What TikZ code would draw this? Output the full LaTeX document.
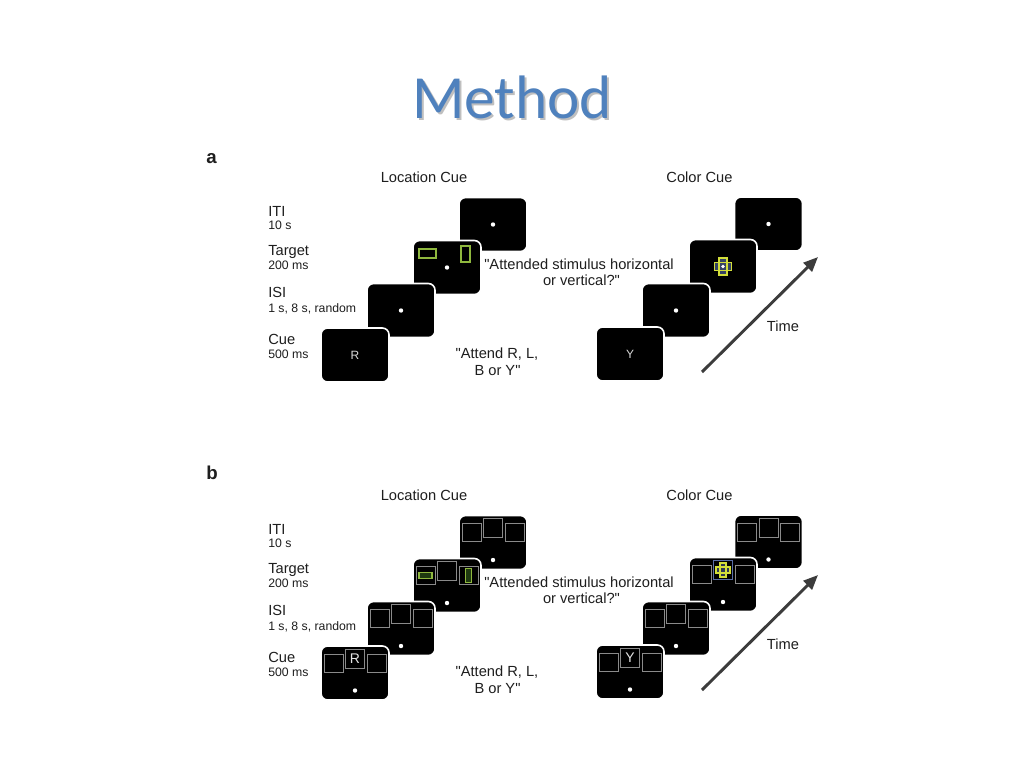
\documentclass[tikz,border=0pt]{standalone}
\usepackage{fontspec}
\setmainfont{Liberation Sans}
\newfontfamily\hv{Liberation Sans}
\newfontfamily\titlefont{Carlito}
\usetikzlibrary{arrows.meta}
\definecolor{titleblue}{HTML}{4F81BD}
\definecolor{stimgreen}{HTML}{8FB83E}
\definecolor{bargreen}{HTML}{1F3A10}
\definecolor{crossyel}{HTML}{D2DE3A}
\definecolor{crossblue}{HTML}{5A6FA8}
\definecolor{sqgray}{HTML}{8A8A8A}
\definecolor{txt}{HTML}{1E1E1E}
\definecolor{arrgray}{HTML}{3C3C3C}
\newcommand\threesq{%
  \draw[sq] (-31,-19) rectangle (-12,-1);
  \draw[sq] (-9.5,-24) rectangle (9.5,-5);
  \draw[sq] (12,-19) rectangle (31,-1);}
\newcommand\sidesq{%
  \draw[sq] (-31,-19) rectangle (-12,-1);
  \draw[sq] (12,-19) rectangle (31,-1);}
\newcommand\botdot{\fill[white] (0,17.5) circle[radius=2.2];}
\newcommand\cendot{\fill[white] (0,0) circle[radius=2.2];}
\begin{document}
\begin{tikzpicture}[x=0.75pt,y=-0.75pt,
  screen/.style={fill=black, draw=white, line width=1.2pt, rounded corners=5pt,
    minimum width=51pt, minimum height=40.5pt, inner sep=0pt},
  sq/.style={draw=sqgray, line width=0.7pt},
  stim/.style={draw=stimgreen, line width=0.8pt},
  lbl/.style={anchor=base west, inner sep=0pt, text=txt, font=\hv\fontsize{11}{13}\selectfont},
  sub/.style={anchor=base west, inner sep=0pt, text=txt, font=\hv\fontsize{9.2}{11}\selectfont},
  head/.style={anchor=base, inner sep=0pt, text=txt, font=\hv\fontsize{11}{13}\selectfont},
  panel/.style={anchor=base west, inner sep=0pt, text=txt, font=\hv\bfseries\fontsize{14}{16}\selectfont},
  letter/.style={inner sep=0pt, text=white!85!black, font=\hv\fontsize{9}{10}\selectfont},
  bigletter/.style={inner sep=0pt, text=white!90!black, font=\hv\fontsize{10.5}{12}\selectfont},
  timearrow/.style={draw=arrgray, line width=2.2pt, -{Triangle[length=11pt,width=9pt]}}
]
\useasboundingbox[fill=white] (0,0) rectangle (1024,768);

% title
\node[anchor=base, inner sep=0pt, text=black!25, font=\titlefont\fontsize{46}{50}\selectfont] (titleshadow) at (514,120) {Method};
\node[anchor=base, inner sep=0pt, text=titleblue, font=\titlefont\fontsize{46}{50}\selectfont] (title) at (512,118) {Method};

% ================= panel a =================
\node[panel] (pa) at (206,163) {a};
\node[head] (aLhead) at (424,182.5) {Location Cue};
\node[head] (aChead) at (699.5,182.5) {Color Cue};

\node[lbl] (aITI) at (268,216) {ITI};
\node[sub] (aITIt) at (268,229.5) {10 s};
\node[lbl] (aTgt) at (268,255) {Target};
\node[sub] (aTgtt) at (268,269.5) {200 ms};
\node[lbl] (aISI) at (268,297.5) {ISI};
\node[sub] (aISIt) at (268,312.5) {1 s, 8 s, random};
\node[lbl] (aCue) at (268,344) {Cue};
\node[sub] (aCuet) at (268,358.5) {500 ms};

% location screens
\node[screen] (aLiti) at (493,224.5) {};
\begin{scope}[shift={(aLiti)}]\cendot\end{scope}
\node[screen] (aLtgt) at (447,267.5) {};
\begin{scope}[shift={(aLtgt)}]
  \draw[stim] (-28,-18.5) rectangle (-11,-9.5);
  \draw[stim] (14,-21.5) rectangle (23,-5.5);
  \cendot
\end{scope}
\node[screen] (aLisi) at (401,310.5) {};
\begin{scope}[shift={(aLisi)}]\cendot\end{scope}
\node[screen] (aLcue) at (355,355) {};
\node[letter] (aLR) at (aLcue) {R};

% color screens
\node[screen] (aCiti) at (768.5,224) {};
\begin{scope}[shift={(aCiti)}]\cendot\end{scope}
\node[screen] (aCtgt) at (723,266.5) {};
\begin{scope}[shift={(aCtgt)}]
  \fill[crossblue!60!black] (-8.5,-4) rectangle (8.5,4);
  \fill[crossblue!60!black] (-4,-8.5) rectangle (4,8.5);
  \draw[draw=crossyel, line width=0.8pt] (-8.5,-4) rectangle (8.5,4);
  \draw[draw=crossyel, line width=0.8pt] (-4,-8.5) rectangle (4,8.5);
  \fill[white] (0,0) circle[radius=1.8];
\end{scope}
\node[screen] (aCisi) at (676,310.5) {};
\begin{scope}[shift={(aCisi)}]\cendot\end{scope}
\node[screen] (aCcue) at (630,354) {};
\node[letter] (aCY) at (aCcue) {Y};

\node[head] (aQ1) at (579,269.5) {"Attended stimulus horizontal};
\node[head] (aQ2) at (581.5,285.5) {or vertical?"};
\node[head] (aA1) at (497,358) {"Attend R, L,};
\node[head] (aA2) at (497.5,375) {B or Y"};

\coordinate (aArrS) at (702,372);
\coordinate (aArrE) at (818,257);
\draw[timearrow] (aArrS) -- (aArrE);
\node[head] (aTime) at (783,331.5) {Time};

% ================= panel b =================
\node[panel] (pb) at (206,479) {b};
\node[head] (bLhead) at (424,500.5) {Location Cue};
\node[head] (bChead) at (699.5,500.5) {Color Cue};

\node[lbl] (bITI) at (268,534) {ITI};
\node[sub] (bITIt) at (268,547.5) {10 s};
\node[lbl] (bTgt) at (268,573) {Target};
\node[sub] (bTgtt) at (268,587.5) {200 ms};
\node[lbl] (bISI) at (268,615.5) {ISI};
\node[sub] (bISIt) at (268,630.5) {1 s, 8 s, random};
\node[lbl] (bCue) at (268,662) {Cue};
\node[sub] (bCuet) at (268,676.5) {500 ms};

% location screens
\node[screen] (bLiti) at (493,542.5) {};
\begin{scope}[shift={(bLiti)}]\threesq\botdot\end{scope}
\node[screen] (bLtgt) at (447,585.5) {};
\begin{scope}[shift={(bLtgt)}]
  \threesq
  \draw[stim, fill=bargreen] (-28,-13) rectangle (-15,-7);
  \draw[stim, fill=bargreen] (18.5,-17) rectangle (24.5,-3);
  \botdot
\end{scope}
\node[screen] (bLisi) at (401,628.5) {};
\begin{scope}[shift={(bLisi)}]\threesq\botdot\end{scope}
\node[screen] (bLcue) at (355,673) {};
\begin{scope}[shift={(bLcue)}]\threesq\botdot\end{scope}
\node[bigletter] (bLR) at ([yshift=10.9pt]bLcue.center) {R};

% color screens
\node[screen] (bCiti) at (768.5,542) {};
\begin{scope}[shift={(bCiti)}]\threesq\botdot\end{scope}
\node[screen] (bCtgt) at (723,584.5) {};
\begin{scope}[shift={(bCtgt)}]
  \sidesq
  \draw[draw=crossblue, line width=0.8pt] (-9.5,-24) rectangle (9.5,-5);
  \fill[crossblue!50!black] (-7,-17.5) rectangle (7,-11.5);
  \fill[crossblue!50!black] (-3,-21.5) rectangle (3,-7.5);
  \draw[draw=crossyel, line width=0.8pt] (-7,-17.5) rectangle (7,-11.5);
  \draw[draw=crossyel, line width=0.8pt] (-3,-21.5) rectangle (3,-7.5);
  \botdot
\end{scope}
\node[screen] (bCisi) at (676,628.5) {};
\begin{scope}[shift={(bCisi)}]\threesq\botdot\end{scope}
\node[screen] (bCcue) at (630,672) {};
\begin{scope}[shift={(bCcue)}]\threesq\botdot\end{scope}
\node[bigletter] (bCY) at ([yshift=10.9pt]bCcue.center) {Y};

\node[head] (bQ1) at (579,587.5) {"Attended stimulus horizontal};
\node[head] (bQ2) at (581.5,603.5) {or vertical?"};
\node[head] (bA1) at (497,676) {"Attend R, L,};
\node[head] (bA2) at (497.5,693) {B or Y"};

\coordinate (bArrS) at (702,690);
\coordinate (bArrE) at (818,575);
\draw[timearrow] (bArrS) -- (bArrE);
\node[head] (bTime) at (783,649.5) {Time};
\end{tikzpicture}
\end{document}
